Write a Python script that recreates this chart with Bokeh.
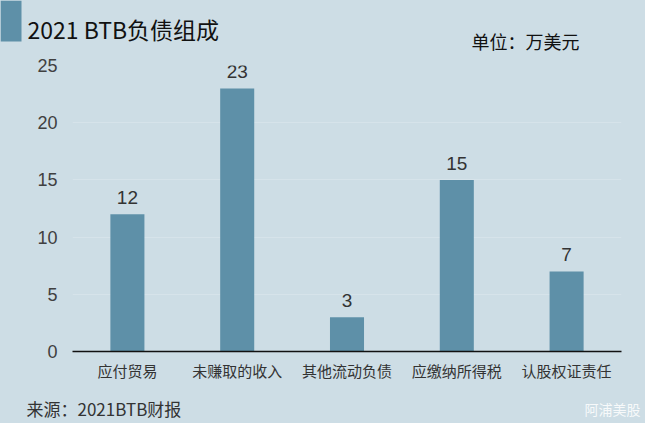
from bokeh.plotting import figure
from bokeh.models import ColumnDataSource, LabelSet, Range1d
from bokeh.layouts import column
from bokeh.core.properties import value
from bokeh.embed import file_html
from bokeh.resources import INLINE

categories = ["应付贸易", "未赚取的收入", "其他流动负债", "应缴纳所得税", "认股权证责任"]
values = [12, 23, 3, 15, 7]
y_ticks = [0, 5, 10, 15, 20, 25]

title_text = "2021  BTB负债组成"
unit_text = "单位：万美元"
source_text = "来源：2021BTB财报"
brand_text = "阿浦美股"

BG = "#cddde5"
BAR = "#5e90a8"
CJK = "Noto Sans CJK SC"

W = 645
HEAD_H, MAIN_H, FOOT_H = 56, 329, 38


def blank(h):
    f = figure(width=W, height=h, x_range=Range1d(0, W), y_range=Range1d(h, 0),
               output_backend="svg", toolbar_location=None,
               x_axis_location=None, y_axis_location=None,
               min_border=0, min_border_left=0, min_border_right=0,
               min_border_top=0, min_border_bottom=0, frame_align=False)
    f.background_fill_color = BG
    f.border_fill_color = BG
    f.outline_line_color = None
    f.grid.visible = False
    return f


# header
head = blank(HEAD_H)
head.quad(left=[0], right=[21], top=[0], bottom=[41], fill_color=BAR, line_color=None)
head.text(x=[27], y=[28], text=[title_text], text_font=value(CJK), text_font_size="23px",
          text_color="#111111", text_baseline="middle")
head.text(x=[471], y=[40], text=[unit_text], text_font=value(CJK), text_font_size="18px",
          text_color="#111111", text_baseline="middle")

# main chart
L, R, T, B = 72, 24, 9, 34
p = figure(x_range=categories, y_range=(0, 25), width=W, height=MAIN_H,
           output_backend="svg", toolbar_location=None, frame_align=False,
           min_border_left=L, min_border_right=R, min_border_top=T, min_border_bottom=B)
p.background_fill_color = BG
p.border_fill_color = BG
p.outline_line_color = None

src = ColumnDataSource(dict(cat=categories, val=values, lab=[str(v) for v in values]))
p.vbar(x="cat", top="val", width=0.31, source=src, fill_color=BAR, line_color=None)
p.add_layout(LabelSet(x="cat", y="val", text="lab", source=src, y_offset=10,
                      text_align="center", text_baseline="bottom",
                      text_font=value("Liberation Sans"), text_font_size=value("19px"),
                      text_color="#333333"))

p.xgrid.grid_line_color = None
p.ygrid.grid_line_color = "#d6e3ea"
p.ygrid.grid_line_width = 1
p.yaxis.ticker = y_ticks
p.yaxis.axis_line_color = None
p.yaxis.major_tick_line_color = None
p.yaxis.minor_tick_line_color = None
p.yaxis.major_tick_out = 0
p.yaxis.major_label_text_font = "Liberation Sans"
p.yaxis.major_label_text_font_size = "18px"
p.yaxis.major_label_text_color = "#404040"
p.yaxis.major_label_standoff = 15

p.xaxis.axis_line_color = "#111111"
p.xaxis.axis_line_width = 1.5
p.xaxis.major_tick_line_color = None
p.xaxis.minor_tick_line_color = None
p.xaxis.major_tick_out = 0
p.xaxis.major_label_text_font = CJK
p.xaxis.major_label_text_font_size = "15px"
p.xaxis.major_label_text_color = "#333333"
p.xaxis.major_label_standoff = 8

# footer
foot = blank(FOOT_H)
foot.text(x=[26], y=[23], text=[source_text], text_font=value(CJK), text_font_size="17px",
          text_color="#333333", text_baseline="middle")
foot.text(x=[640], y=[23], text=[brand_text], text_font=value(CJK), text_font_size="14px",
          text_color="#ffffff", text_alpha=0.85, text_align="right", text_baseline="middle")

layout = column(head, p, foot, spacing=0, styles={"background-color": BG})
open("out.html", "w").write(file_html(layout, INLINE))
